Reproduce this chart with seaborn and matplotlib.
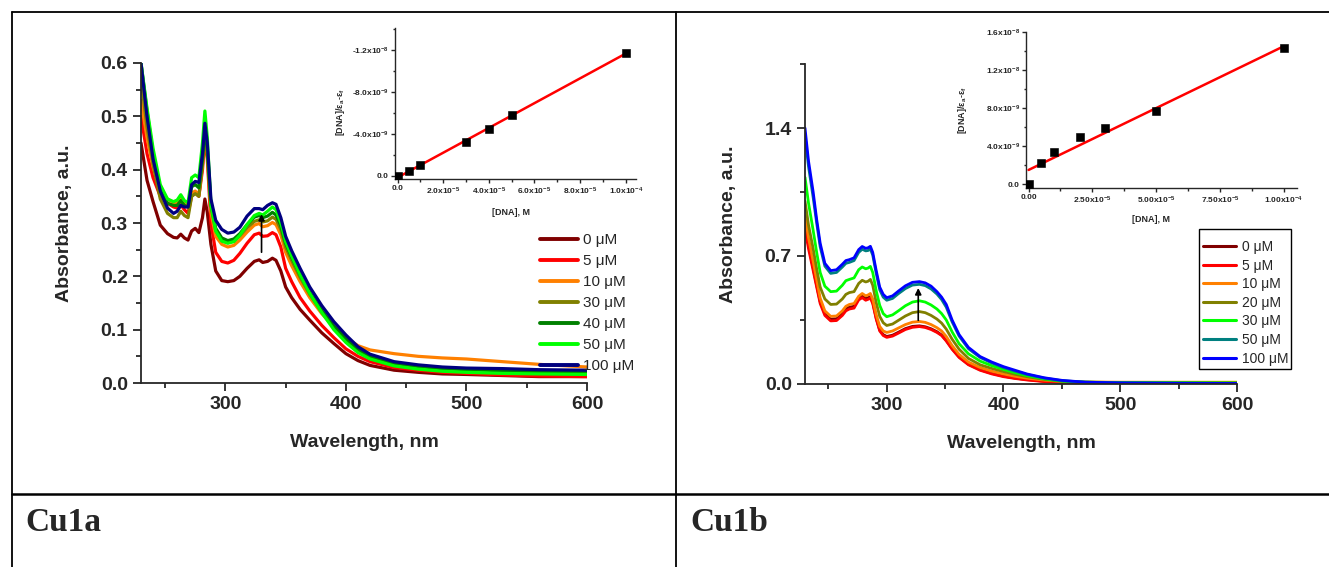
import numpy as np
import pandas as pd
import matplotlib
matplotlib.use('Agg')
import matplotlib.pyplot as plt
from matplotlib.lines import Line2D
from matplotlib.patches import Rectangle
from matplotlib.ticker import MultipleLocator, FixedLocator
import seaborn as sns

# ---------------- data: Cu1a ----------------
conc_a = ['0 μM', '5 μM', '10 μM', '30 μM', '40 μM', '50 μM', '100 μM']
colors_a = ['#800000', '#FF0000', '#FF8000', '#808000', '#008000', '#00FF00', '#000080']
wl_a = [230, 235, 240, 246, 252, 257, 260, 263, 266, 269, 272, 275, 278, 281, 283, 285, 288,
        292, 297, 302, 307, 312, 318, 324, 328, 331, 335, 339, 342, 346, 350, 355, 362, 370,
        380, 390, 400, 410, 420, 440, 460, 480, 500, 530, 560, 600]
abs_a_0 = [0.45, 0.38, 0.34, 0.296, 0.28, 0.273, 0.272, 0.279, 0.272, 0.268, 0.285, 0.29, 0.282,
           0.31, 0.345, 0.32, 0.26, 0.21, 0.192, 0.19, 0.192, 0.2, 0.215, 0.228, 0.231, 0.226,
           0.228, 0.234, 0.23, 0.21, 0.18, 0.16, 0.138, 0.118, 0.094, 0.074, 0.055, 0.042, 0.033,
           0.024, 0.02, 0.017, 0.016, 0.014, 0.012, 0.012]
abs_a_5 = [0.50, 0.43, 0.385, 0.35, 0.337, 0.33, 0.328, 0.334, 0.325, 0.318, 0.35, 0.358, 0.35,
           0.40, 0.46, 0.42, 0.30, 0.245, 0.228, 0.225, 0.23, 0.243, 0.262, 0.278, 0.281, 0.275,
           0.276, 0.282, 0.278, 0.255, 0.215, 0.19, 0.16, 0.135, 0.108, 0.085, 0.064, 0.05, 0.04,
           0.029, 0.024, 0.02, 0.018, 0.015, 0.013, 0.012]
abs_a_10 = [0.53, 0.46, 0.405, 0.36, 0.345, 0.338, 0.338, 0.346, 0.338, 0.333, 0.356, 0.36, 0.352,
            0.41, 0.47, 0.43, 0.32, 0.275, 0.26, 0.255, 0.258, 0.268, 0.283, 0.296, 0.299, 0.293,
            0.295, 0.301, 0.297, 0.278, 0.245, 0.22, 0.19, 0.16, 0.13, 0.105, 0.085, 0.07, 0.062,
            0.055, 0.05, 0.047, 0.045, 0.04, 0.035, 0.03]
abs_a_30 = [0.57, 0.48, 0.41, 0.345, 0.318, 0.31, 0.31, 0.322, 0.314, 0.31, 0.35, 0.355, 0.35,
            0.41, 0.47, 0.43, 0.33, 0.285, 0.268, 0.263, 0.266, 0.276, 0.291, 0.303, 0.306, 0.302,
            0.304, 0.311, 0.307, 0.288, 0.255, 0.23, 0.198, 0.166, 0.133, 0.105, 0.082, 0.062,
            0.05, 0.038, 0.032, 0.028, 0.026, 0.024, 0.022, 0.02]
abs_a_40 = [0.60, 0.51, 0.43, 0.365, 0.337, 0.333, 0.333, 0.342, 0.333, 0.33, 0.368, 0.372, 0.366,
            0.42, 0.48, 0.44, 0.335, 0.29, 0.272, 0.267, 0.27, 0.28, 0.297, 0.311, 0.314, 0.31,
            0.313, 0.32, 0.315, 0.295, 0.262, 0.236, 0.203, 0.17, 0.136, 0.107, 0.083, 0.063,
            0.05, 0.037, 0.031, 0.027, 0.025, 0.023, 0.021, 0.02]
abs_a_50 = [0.60, 0.515, 0.44, 0.372, 0.345, 0.34, 0.343, 0.353, 0.342, 0.338, 0.385, 0.39, 0.385,
            0.45, 0.51, 0.46, 0.335, 0.285, 0.266, 0.262, 0.265, 0.277, 0.297, 0.314, 0.318, 0.315,
            0.322, 0.33, 0.325, 0.30, 0.265, 0.238, 0.203, 0.168, 0.132, 0.10, 0.076, 0.057,
            0.045, 0.032, 0.026, 0.022, 0.02, 0.018, 0.017, 0.016]
abs_a_100 = [0.60, 0.50, 0.42, 0.36, 0.328, 0.318, 0.322, 0.333, 0.33, 0.33, 0.372, 0.378, 0.376,
             0.43, 0.487, 0.45, 0.345, 0.305, 0.288, 0.281, 0.283, 0.292, 0.313, 0.327, 0.327,
             0.325, 0.333, 0.338, 0.335, 0.31, 0.275, 0.248, 0.215, 0.18, 0.145, 0.115, 0.09,
             0.068, 0.054, 0.04, 0.034, 0.03, 0.028, 0.027, 0.025, 0.024]
spectra_a = [abs_a_0, abs_a_5, abs_a_10, abs_a_30, abs_a_40, abs_a_50, abs_a_100]

dna_a = [0, 5e-6, 1e-5, 3e-5, 4e-5, 5e-5, 1e-4]
ratio_a = [0.0, -0.48e-9, -1.0e-9, -3.24e-9, -4.45e-9, -5.8e-9, -11.74e-9]
ins_a_xticks = [0, 2e-5, 4e-5, 6e-5, 8e-5, 1e-4]
ins_a_xlabels = ['0.0', '2.0x10$^{-5}$', '4.0x10$^{-5}$', '6.0x10$^{-5}$', '8.0x10$^{-5}$', '1.0x10$^{-4}$']
ins_a_yticks = [0, -4e-9, -8e-9, -1.2e-8]
ins_a_ylabels = ['0.0', '-4.0x10$^{-9}$', '-8.0x10$^{-9}$', '-1.2x10$^{-8}$']

# ---------------- data: Cu1b ----------------
conc_b = ['0 μM', '5 μM', '10 μM', '20 μM', '30 μM', '50 μM', '100 μM']
colors_b = ['#800000', '#FF0000', '#FF8000', '#808000', '#00FF00', '#008080', '#0000FF']
wl_b = [230, 233, 237, 240, 243, 247, 252, 257, 262, 265, 268, 272, 276, 279, 282, 284, 286, 288,
        291, 294, 297, 300, 305, 310, 316, 322, 328, 333, 338, 343, 347, 351, 356, 362, 370, 380,
        390, 400, 410, 420, 435, 450, 470, 500, 550, 600]
abs_b_0 = [0.87, 0.76, 0.635, 0.54, 0.45, 0.385, 0.355, 0.357, 0.385, 0.41, 0.42, 0.425, 0.47,
           0.482, 0.468, 0.472, 0.478, 0.448, 0.36, 0.295, 0.27, 0.26, 0.267, 0.283, 0.303, 0.315,
           0.318, 0.313, 0.302, 0.286, 0.268, 0.238, 0.193, 0.148, 0.108, 0.078, 0.058, 0.043,
           0.032, 0.024, 0.015, 0.01, 0.007, 0.005, 0.004, 0.004]
abs_b_5 = [0.85, 0.74, 0.62, 0.53, 0.44, 0.375, 0.345, 0.347, 0.375, 0.40, 0.41, 0.415, 0.46,
           0.472, 0.458, 0.463, 0.47, 0.44, 0.355, 0.29, 0.265, 0.255, 0.262, 0.278, 0.298, 0.31,
           0.314, 0.309, 0.298, 0.282, 0.265, 0.235, 0.19, 0.145, 0.105, 0.075, 0.055, 0.04,
           0.03, 0.022, 0.013, 0.008, 0.005, 0.003, 0.002, 0.002]
abs_b_10 = [0.92, 0.80, 0.67, 0.57, 0.47, 0.40, 0.37, 0.372, 0.40, 0.425, 0.435, 0.44, 0.48,
            0.495, 0.482, 0.487, 0.495, 0.465, 0.38, 0.315, 0.29, 0.282, 0.29, 0.306, 0.325,
            0.338, 0.342, 0.337, 0.325, 0.308, 0.29, 0.26, 0.21, 0.162, 0.12, 0.09, 0.07, 0.055,
            0.042, 0.032, 0.021, 0.014, 0.011, 0.01, 0.01, 0.01]
abs_b_20 = [1.0, 0.87, 0.74, 0.63, 0.53, 0.465, 0.435, 0.437, 0.465, 0.49, 0.50, 0.505, 0.55,
            0.567, 0.558, 0.562, 0.572, 0.54, 0.445, 0.37, 0.335, 0.32, 0.328, 0.348, 0.372, 0.39,
            0.396, 0.39, 0.375, 0.355, 0.333, 0.30, 0.245, 0.19, 0.14, 0.105, 0.085, 0.068, 0.053,
            0.04, 0.025, 0.015, 0.01, 0.008, 0.007, 0.006]
abs_b_30 = [1.13, 0.99, 0.84, 0.72, 0.61, 0.535, 0.505, 0.508, 0.54, 0.565, 0.572, 0.58, 0.625,
            0.64, 0.63, 0.634, 0.643, 0.61, 0.51, 0.43, 0.385, 0.368, 0.378, 0.40, 0.428, 0.448,
            0.455, 0.448, 0.432, 0.41, 0.385, 0.35, 0.285, 0.22, 0.165, 0.125, 0.10, 0.08, 0.062,
            0.046, 0.028, 0.016, 0.01, 0.008, 0.007, 0.006]
abs_b_50 = [1.36, 1.19, 1.02, 0.88, 0.75, 0.645, 0.605, 0.61, 0.64, 0.66, 0.665, 0.675, 0.72,
            0.737, 0.728, 0.73, 0.738, 0.705, 0.605, 0.515, 0.475, 0.458, 0.468, 0.494, 0.522,
            0.541, 0.545, 0.538, 0.52, 0.492, 0.462, 0.42, 0.34, 0.262, 0.193, 0.145, 0.115, 0.09,
            0.07, 0.052, 0.032, 0.018, 0.01, 0.006, 0.004, 0.003]
abs_b_100 = [1.40, 1.22, 1.05, 0.90, 0.77, 0.66, 0.62, 0.625, 0.655, 0.675, 0.68, 0.69, 0.735,
             0.752, 0.742, 0.745, 0.753, 0.72, 0.62, 0.53, 0.49, 0.472, 0.482, 0.508, 0.537,
             0.556, 0.56, 0.553, 0.535, 0.505, 0.475, 0.435, 0.35, 0.27, 0.20, 0.15, 0.12, 0.095,
             0.075, 0.055, 0.034, 0.02, 0.01, 0.006, 0.004, 0.003]
spectra_b = [abs_b_0, abs_b_5, abs_b_10, abs_b_20, abs_b_30, abs_b_50, abs_b_100]

dna_b = [0, 5e-6, 1e-5, 2e-5, 3e-5, 5e-5, 1e-4]
ratio_b = [0.0, 2.18e-9, 3.4e-9, 4.9e-9, 5.93e-9, 7.68e-9, 14.28e-9]
ins_b_xticks = [0, 2.5e-5, 5e-5, 7.5e-5, 1e-4]
ins_b_xlabels = ['0.00', '2.50x10$^{-5}$', '5.00x10$^{-5}$', '7.50x10$^{-5}$', '1.00x10$^{-4}$']
ins_b_yticks = [0, 4e-9, 8e-9, 1.2e-8, 1.6e-8]
ins_b_ylabels = ['0.0', '4.0x10$^{-9}$', '8.0x10$^{-9}$', '1.2x10$^{-8}$', '1.6x10$^{-8}$']

# ---------------- style ----------------
sns.set_style('ticks')
plt.rcParams['font.family'] = ['Liberation Sans', 'DejaVu Sans']
plt.rcParams['mathtext.fontset'] = 'custom'
plt.rcParams['mathtext.rm'] = 'Liberation Sans:bold'
plt.rcParams['mathtext.bf'] = 'Liberation Sans:bold'
plt.rcParams['mathtext.it'] = 'Liberation Sans:bold'
plt.rcParams['mathtext.default'] = 'bf'

W, H = 1329, 567
fig = plt.figure(figsize=(W / 100, H / 100), dpi=100)


def rect(x0, y0, x1, y1):
    # pixel box (left, top, right, bottom) -> figure fraction
    return [x0 / W, 1 - y1 / H, (x1 - x0) / W, (y1 - y0) / H]


def fline(x0, y0, x1, y1, lw=1.3):
    fig.add_artist(Line2D([x0 / W, x1 / W], [1 - y0 / H, 1 - y1 / H],
                          transform=fig.transFigure, color='black', lw=lw))


def style_axis(ax, size=14, major=6, minor=3.5, width=1.3, pad=3.5):
    sns.despine(ax=ax)
    for s in ['left', 'bottom']:
        ax.spines[s].set_linewidth(width)
    ax.tick_params(which='major', direction='out', length=major, width=width, labelsize=size, pad=pad)
    ax.tick_params(which='minor', direction='out', length=minor, width=width)
    for lab in ax.get_xticklabels() + ax.get_yticklabels():
        lab.set_fontweight('bold')


def draw_spectra(ax, wl, spectra, conc, colors, lw):
    df = pd.concat([pd.DataFrame({'wl': wl, 'A': a, 'conc': c}) for a, c in zip(spectra, conc)])
    sns.lineplot(data=df, x='wl', y='A', hue='conc', hue_order=conc, palette=colors,
                 estimator=None, sort=False, lw=lw, legend=False, ax=ax)
    ax.set_xlim(230, 600)
    ax.xaxis.set_major_locator(MultipleLocator(100))
    ax.xaxis.set_minor_locator(MultipleLocator(50))
    ax.set_xlabel('Wavelength, nm', fontsize=14, fontweight='bold')
    ax.set_ylabel('Absorbance, a.u.', fontsize=14, fontweight='bold')


def draw_inset(ax, x, y, xt, xl, yt, yl):
    sns.regplot(x=x, y=y, ci=None, scatter=False, color='red', line_kws={'lw': 1.8}, ax=ax)
    sns.scatterplot(x=x, y=y, marker='s', color='black', s=28, edgecolor='black', ax=ax, zorder=3)
    ax.xaxis.set_major_locator(FixedLocator(xt))
    ax.set_xticklabels(xl)
    ax.yaxis.set_major_locator(FixedLocator(yt))
    ax.set_yticklabels(yl)
    style_axis(ax, size=6, major=3, minor=1.8, width=1.0, pad=1.5)
    ax.set_xlabel('[DNA], M', fontsize=6.5, fontweight='bold')
    ax.set_ylabel('[DNA]/ε$_a$-ε$_f$', fontsize=6.5, fontweight='bold')
    ax.patch.set_alpha(0)


# ---------------- Cu1a ----------------
ax1 = fig.add_axes(rect(141, 63, 587, 383))
draw_spectra(ax1, wl_a, spectra_a, conc_a, colors_a, 2.3)
ax1.set_ylim(0, 0.6)
ax1.yaxis.set_major_locator(MultipleLocator(0.1))
ax1.yaxis.set_minor_locator(MultipleLocator(0.05))
style_axis(ax1)
ax1.yaxis.set_label_coords(-0.152, 0.5)
ax1.xaxis.set_label_coords(0.5, -0.16)
ax1.annotate('', xy=(330, 0.322), xytext=(330, 0.24),
             arrowprops=dict(arrowstyle='-|>', color='black', lw=1.2, mutation_scale=9))
h_a = [Line2D([], [], color=c, lw=2.8) for c in colors_a]
ax1.legend(h_a, conc_a, loc='upper left', bbox_to_anchor=(540 / W, 1 - 233 / H),
           bbox_transform=fig.transFigure, frameon=False, fontsize=11, borderpad=0,
           borderaxespad=0, handlelength=2.5, handletextpad=0.3, labelspacing=0.46)

ins1 = fig.add_axes(rect(395, 28, 636, 179))
draw_inset(ins1, dna_a, ratio_a, ins_a_xticks, ins_a_xlabels, ins_a_yticks, ins_a_ylabels)
ins1.set_xlim(-1.1e-6, 1.045e-4)
ins1.set_ylim(0.29e-9, -1.41e-8)
ins1.xaxis.set_minor_locator(MultipleLocator(1e-5))
ins1.yaxis.set_minor_locator(MultipleLocator(2e-9))
ins1.yaxis.set_label_coords(-0.2, 0.44)
ins1.xaxis.set_label_coords(0.48, -0.19)

# ---------------- Cu1b ----------------
ax2 = fig.add_axes(rect(805, 64, 1237, 384))
draw_spectra(ax2, wl_b, spectra_b, conc_b, colors_b, 2.0)
ax2.set_ylim(0, 1.75)
ax2.yaxis.set_major_locator(MultipleLocator(0.7))
ax2.yaxis.set_minor_locator(MultipleLocator(0.35))
style_axis(ax2)
ax2.yaxis.set_label_coords(-0.157, 0.5)
ax2.xaxis.set_label_coords(0.5, -0.16)
ax2.annotate('', xy=(327, 0.54), xytext=(327, 0.333),
             arrowprops=dict(arrowstyle='-|>', color='black', lw=1.2, mutation_scale=9))
h_b = [Line2D([], [], color=c, lw=2.2) for c in colors_b]
ax2.legend(h_b, conc_b, loc='upper left', bbox_to_anchor=(1203 / W, 1 - 240 / H),
           bbox_transform=fig.transFigure, frameon=False, fontsize=10,
           borderpad=0, borderaxespad=0, handlelength=2.4, handletextpad=0.4,
           labelspacing=0.33)
# legend box of the original is taller at the top than the entries need
fig.add_artist(Rectangle((1199 / W, 1 - 369 / H), 92 / W, 140 / H, transform=fig.transFigure,
                         fill=False, edgecolor='black', lw=1.0))

ins2 = fig.add_axes(rect(1026, 32, 1297, 188))
draw_inset(ins2, dna_b, ratio_b, ins_b_xticks, ins_b_xlabels, ins_b_yticks, ins_b_ylabels)
ins2.set_xlim(-1.0e-6, 1.051e-4)
ins2.set_ylim(-0.42e-9, 1.6e-8)
ins2.xaxis.set_minor_locator(MultipleLocator(1.25e-5))
ins2.yaxis.set_minor_locator(MultipleLocator(2e-9))
ins2.yaxis.set_label_coords(-0.21, 0.5)
ins2.xaxis.set_label_coords(0.46, -0.17)

# ---------------- table frame ----------------
fline(12, 12, W, 12)
fline(12, 12, 12, H)
fline(676, 12, 676, H)
fline(12, 494, W, 494, lw=1.8)
fig.text(25 / W, 1 - 531 / H, 'Cu1a', family='Liberation Serif', weight='bold', size=24, va='baseline')
fig.text(690 / W, 1 - 531 / H, 'Cu1b', family='Liberation Serif', weight='bold', size=24, va='baseline')

fig.savefig('out.png', dpi=100)
